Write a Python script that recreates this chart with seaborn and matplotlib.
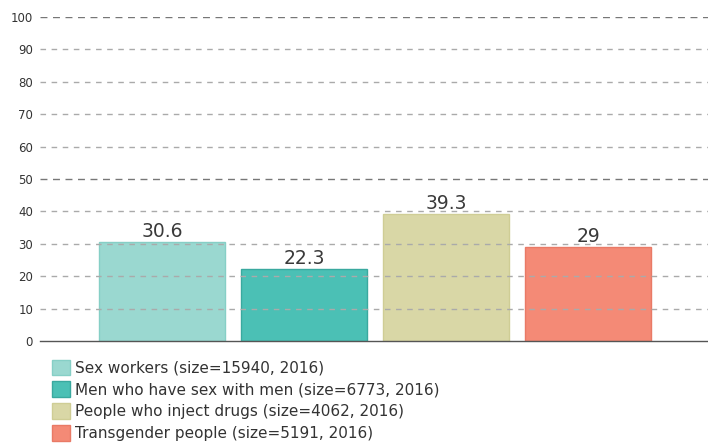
import pandas as pd
import numpy as np
import matplotlib.pyplot as plt
import seaborn as sns
from matplotlib.patches import Patch

# Data
groups = ['Sex workers', 'Men who have sex with men', 'People who inject drugs', 'Transgender people']
sizes = [15940, 6773, 4062, 5191]
years = [2016, 2016, 2016, 2016]
values = [30.6, 22.3, 39.3, 29]
colors = ['#9ad8d0', '#4bc0b5', '#d9d7a6', '#f48a76']
edges = ['#86cfc6', '#3aa99f', '#cfcd95', '#e97a66']

sns.set_style('white')
plt.rcParams['font.family'] = ['DejaVu Sans']

df = pd.DataFrame({'group': groups, 'value': values})

fig = plt.figure(figsize=(7.08, 4.45), dpi=100)
ax = fig.add_axes([40 / 708, 1 - 341 / 445, 668 / 708, 324 / 445])

sns.barplot(data=df, x='group', y='value', hue='group', palette=colors,
            dodge=False, width=0.887, legend=False, ax=ax, saturation=1)
for p, ec in zip(ax.patches, edges):
    p.set_edgecolor(ec)
    p.set_linewidth(1)

# Gridlines drawn over bars
for y in range(10, 101, 10):
    if y in (50, 100):
        ax.axhline(y, color='#777777', linestyle=(0, (5, 4)), linewidth=1, zorder=5)
    else:
        ax.axhline(y, color='#aaaaaa', linestyle=(0, (4, 4)), linewidth=1, zorder=5)

ax.set_ylim(0, 100)
ax.set_xlim(-0.859, 3.845)
ax.set_yticks(range(0, 101, 10))
ax.tick_params(axis='y', labelsize=8.5, colors='#333333', length=0, pad=5)
ax.set_xticks([])
ax.set_xlabel('')
ax.set_ylabel('')
for s in ['top', 'right', 'left']:
    ax.spines[s].set_visible(False)
ax.spines['bottom'].set_color('#555555')
ax.spines['bottom'].set_linewidth(1)

for i, v in enumerate(values):
    ax.text(i, v + 0.3, f'{v:g}', ha='center', va='bottom', fontsize=13.5, color='#3a3a3a', zorder=6)

handles = [Patch(facecolor=c, edgecolor=e) for c, e in zip(colors, edges)]
labels = [f'{g} (size={s}, {y})' for g, s, y in zip(groups, sizes, years)]
fig.legend(handles, labels, loc='upper left', bbox_to_anchor=(44 / 708, 1 - 352 / 445),
           frameon=False, fontsize=11, labelcolor='#333333', handlelength=1.2,
           handleheight=1.2, handletextpad=0.3, labelspacing=0.38, borderpad=0)

fig.savefig('out.png', dpi=100)
